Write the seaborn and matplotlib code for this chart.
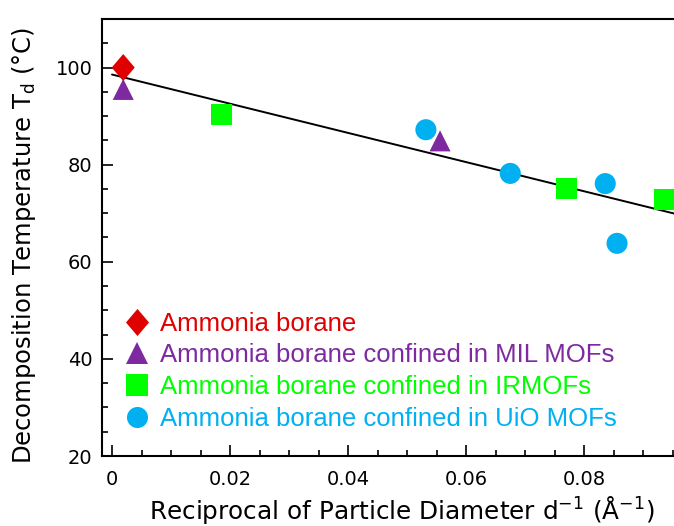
import numpy as np
import pandas as pd
import matplotlib
matplotlib.use("Agg")
import matplotlib.pyplot as plt
import seaborn as sns
from matplotlib.ticker import MultipleLocator

# ---------------------------------------------------------------
# data
# ---------------------------------------------------------------
groups = ["Ammonia borane",
          "Ammonia borane confined in MIL MOFs",
          "Ammonia borane confined in IRMOFs",
          "Ammonia borane confined in UiO MOFs"]
colors = ["#E00000", "#7D2AA0", "#00FF00", "#00B0F0"]

ab_x = [0.0019]
ab_y = [100.0]
mil_x = [0.0019, 0.0556]
mil_y = [95.5, 84.9]
irmof_x = [0.0185, 0.0771, 0.0937]
irmof_y = [90.3, 75.0, 72.8]
uio_x = [0.0532, 0.0675, 0.0836, 0.0856]
uio_y = [87.2, 78.2, 76.1, 63.8]

xtick_vals = [0, 0.02, 0.04, 0.06, 0.08]
xtick_labels = ["0", "0.02", "0.04", "0.06", "0.08"]
ytick_vals = [20, 40, 60, 80, 100]

# slightly tall diamond, like the reference
diamond = [(0, 1), (0.85, 0), (0, -1), (-0.85, 0)]
markers = [diamond, "^", "s", "o"]
marker_area = [380, 230, 230, 230]

# draw order: UiO first so that the other markers sit on top
frames = []
for name, xs, ys in [(groups[3], uio_x, uio_y), (groups[2], irmof_x, irmof_y),
                     (groups[1], mil_x, mil_y), (groups[0], ab_x, ab_y)]:
    frames.append(pd.DataFrame({"d_inv": xs, "Td": ys, "group": name}))
df = pd.concat(frames, ignore_index=True)

# ---------------------------------------------------------------
# style
# ---------------------------------------------------------------
sns.set_style("white")
plt.rcParams["font.family"] = ["DejaVu Sans"]
plt.rcParams["mathtext.default"] = "regular"
plt.rcParams["text.color"] = "black"
plt.rcParams["axes.labelcolor"] = "black"
plt.rcParams["xtick.color"] = "black"
plt.rcParams["ytick.color"] = "black"

fig = plt.figure(figsize=(6.74, 5.26), dpi=100)
ax = fig.add_axes([102 / 674, 1 - 456 / 526, 600 / 674, 437 / 526])

xmin, xmax = -0.0017, 0.1
ax.set_xlim(xmin, xmax)
ax.set_ylim(20, 110)

# linear fit through all points
coef = np.polyfit(df["d_inv"], df["Td"], 1)
line_x = np.array([0.0, xmax])
ax.plot(line_x, np.polyval(coef, line_x), color="black", lw=1.4, zorder=1)

sns.scatterplot(data=df, x="d_inv", y="Td", hue="group", style="group",
                size="group",
                hue_order=groups, style_order=groups, size_order=groups,
                palette=dict(zip(groups, colors)),
                markers=dict(zip(groups, markers)),
                sizes=dict(zip(groups, marker_area)),
                linewidth=0, ax=ax, zorder=3)

# legend with coloured text
handles, labels = ax.get_legend_handles_labels()
for h, area in zip(handles, marker_area):
    if hasattr(h, "set_markersize"):
        h.set_markersize(np.sqrt(area))
        h.set_markeredgewidth(0)
    else:
        h.set_sizes([area])
leg = ax.legend(handles, labels, loc="lower left", bbox_to_anchor=(0.037, 0.058),
                frameon=False, handlelength=1.0,
                prop={"family": "Liberation Sans", "size": 18.5},
                handletextpad=0.4, labelspacing=0.3, borderpad=0,
                borderaxespad=0)
for txt, c in zip(leg.get_texts(), colors):
    txt.set_color(c)

# axes cosmetics
ax.set_xticks(xtick_vals)
ax.set_xticklabels(xtick_labels)
ax.set_yticks(ytick_vals)
ax.xaxis.set_minor_locator(MultipleLocator(0.005))
ax.yaxis.set_minor_locator(MultipleLocator(5))
ax.tick_params(which="both", direction="in", top=False, right=False,
               bottom=True, left=True, color="black", width=1.2,
               labelsize=14)
ax.tick_params(which="major", length=8)
ax.tick_params(which="minor", length=4)
ax.tick_params(axis="x", pad=10)
ax.tick_params(axis="y", pad=7)
for sp in ax.spines.values():
    sp.set_linewidth(1.5)
    sp.set_color("black")

ax.set_xlabel("Reciprocal of Particle Diameter d$^{-1}$ (Å$^{-1}$)",
              fontsize=17.8, labelpad=4)
ax.set_ylabel("Decomposition Temperature T$_{d}$ (°C)", fontsize=17.5)
ax.yaxis.set_label_coords(-0.106, 0.483)

fig.savefig("out.png", dpi=100)
